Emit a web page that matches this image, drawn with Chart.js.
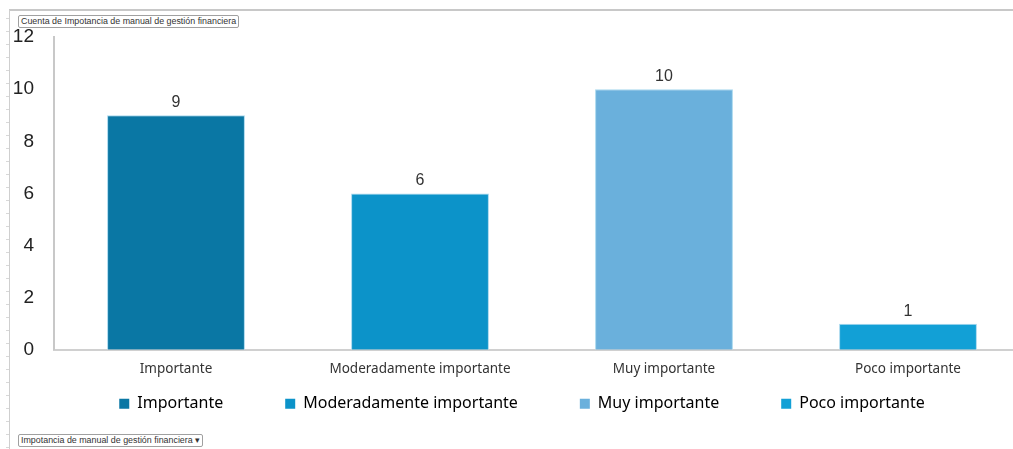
<!DOCTYPE html>
<html>
<head>
<meta charset="utf-8">
<script src="https://cdn.jsdelivr.net/npm/chart.js@4/dist/chart.umd.min.js"></script>
<style>
  html, body { margin:0; padding:0; background:#fff; overflow:hidden; width:1013px; height:449px; }
  #wrap { position:absolute; left:0; top:0; width:1030px; height:449px; }
  .pbtn { position:absolute; font-family:"Liberation Sans", Arial, sans-serif; font-size:8.9px; color:#333;
          border:1px solid #a0a0a0; border-radius:2px; background:#fff; padding:0 2px; line-height:11px; white-space:nowrap; }
</style>
</head>
<body>
<div id="wrap"><canvas id="c" width="1030" height="449"></canvas></div>
<div class="pbtn" style="left:18px; top:15px;">Cuenta de Impotancia de manual de gestión financiera</div>
<div class="pbtn" style="left:18px; top:434px;">Impotancia de manual de gestión financiera ▾</div>
<script>
const categories = ["Importante", "Moderadamente importante", "Muy importante", "Poco importante"];
const counts = [9, 6, 10, 1];
const barColors = ["#0a77a4", "#0c93c9", "#6ab0dc", "#12a0d6"];
const yTicks = [0, 2, 4, 6, 8, 10, 12];

const decor = {
  id: 'decor',
  afterLayout(chart) {
    // place legend row below the category labels
    const lg = chart.legend;
    const pad = lg.options.labels.padding;
    lg.top = chart.chartArea.bottom + 46 - pad;
    lg.bottom = chart.height;
    lg.height = lg.bottom - lg.top;
    lg.left += 7;
    lg.right += 7;
  },
  beforeDraw(chart) {
    const ctx = chart.ctx;
    ctx.save();
    ctx.strokeStyle = '#c8c8c8';
    ctx.lineWidth = 2;
    ctx.beginPath(); ctx.moveTo(9, 10); ctx.lineTo(chart.width, 10); ctx.stroke();
    ctx.lineWidth = 1;
    ctx.strokeStyle = '#cfcfcf';
    ctx.beginPath(); ctx.moveTo(9.5, 10); ctx.lineTo(9.5, 449); ctx.stroke();
    ctx.strokeStyle = '#d8d8d8';
    for (let y = 18; y < 449; y += 13) { ctx.beginPath(); ctx.moveTo(6, y + 0.5); ctx.lineTo(9, y + 0.5); ctx.stroke(); }
    ctx.restore();
  }
};

const valueLabels = {
  id: 'valueLabels',
  afterDatasetsDraw(chart) {
    const ctx = chart.ctx;
    const meta = chart.getDatasetMeta(0);
    ctx.save();
    ctx.font = '16px "Liberation Sans", Arial, sans-serif';
    ctx.fillStyle = '#333';
    ctx.textAlign = 'center';
    ctx.textBaseline = 'alphabetic';
    meta.data.forEach((bar, i) => {
      ctx.fillText(String(chart.data.datasets[0].data[i]), bar.x, bar.y - 8);
    });
    ctx.restore();
  }
};

new Chart(document.getElementById('c'), {
  type: 'bar',
  data: {
    labels: categories,
    datasets: [{
      label: 'Cuenta',
      data: counts,
      backgroundColor: barColors,
      borderColor: '#a8d8ee',
      borderWidth: 1,
      categoryPercentage: 1.0,
      barPercentage: 0.565
    }]
  },
  options: {
    responsive: false,
    animation: false,
    layout: { padding: { top: 37, bottom: 41, left: 0, right: 0 } },
    plugins: {
      tooltip: { enabled: false },
      legend: {
        position: 'bottom',
        maxHeight: 20,
        labels: {
          font: { family: '"Noto Sans", "Open Sans", sans-serif', size: 16 },
          color: '#767676',
          boxWidth: 10, boxHeight: 10,
          padding: 62,
          generateLabels(chart) {
            return chart.data.labels.map((l, i) => ({
              text: l, fillStyle: barColors[i], strokeStyle: barColors[i], lineWidth: 0, index: i, hidden: false
            }));
          }
        },
        onClick: null
      }
    },
    scales: {
      x: {
        grid: { display: false, drawTicks: false },
        border: { color: '#d0d0d0', width: 2 },
        ticks: { color: '#333', font: { family: '"Noto Sans", "Open Sans", sans-serif', size: 13.5 }, padding: 11 }
      },
      y: {
        min: 0, max: 12,
        afterBuildTicks(scale) { scale.ticks = yTicks.map(v => ({ value: v })); },
        afterFit(scale) { scale.width = 54; },
        grid: { display: false, drawTicks: false },
        border: { color: '#c8c8c8', width: 2 },
        ticks: { color: '#222', font: { family: '"Liberation Sans", Arial, sans-serif', size: 19 }, padding: 20 }
      }
    }
  },
  plugins: [decor, valueLabels]
});
</script>
</body>
</html>
